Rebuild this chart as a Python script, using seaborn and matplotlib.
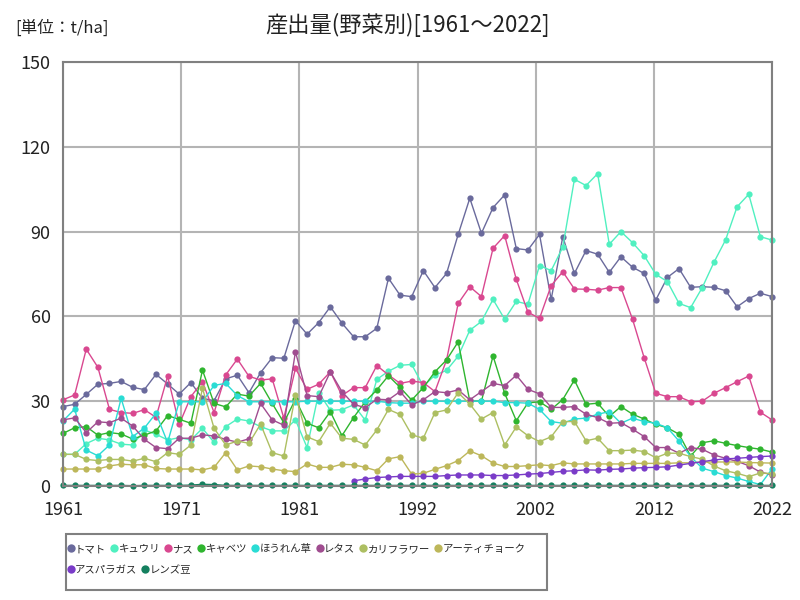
import numpy as np
import pandas as pd
import matplotlib
matplotlib.use('Agg')
import matplotlib.pyplot as plt
from matplotlib.lines import Line2D
from matplotlib.patches import Rectangle
import seaborn as sns

years = list(range(1961, 2023))

tomato = [28.1, 28.9, 32.4, 36.0, 36.3, 37.0, 34.9, 34.1, 39.5, 36.1,
          32.5, 36.6, 31.0, 30.2, 37.9, 39.2, 33.0, 40.1, 45.4, 45.2,
          58.5, 53.7, 57.8, 63.4, 57.6, 52.8, 52.8, 55.8, 73.5, 67.5,
          67.0, 76.2, 70.2, 75.2, 89.0, 101.8, 89.4, 98.5, 103.0, 84.0,
          83.5, 89.0, 66.0, 88.2, 75.2, 83.3, 82.0, 75.6, 81.1, 77.4,
          75.2, 65.8, 73.8, 76.9, 70.3, 70.5, 70.3, 69.1, 63.4, 66.3,
          68.2, 67.0]
cucumber = [11.2, 11.2, 15.0, 16.9, 16.3, 14.8, 14.5, 19.8, 18.3, 16.3,
            17.1, 16.3, 20.4, 15.4, 21.0, 23.7, 23.0, 21.0, 19.5, 19.5,
            23.4, 13.6, 33.0, 26.8, 27.0, 28.7, 23.3, 37.7, 40.6, 42.7,
            43.0, 35.3, 39.2, 40.9, 45.9, 55.1, 58.2, 66.0, 59.0, 65.3,
            64.3, 78.0, 76.2, 84.5, 108.5, 106.3, 110.5, 85.5, 90.0, 86.1,
            81.5, 74.9, 72.3, 64.6, 63.1, 70.2, 79.1, 87.0, 98.8, 103.2,
            88.2, 87.0]
eggplant = [30.5, 32.2, 48.4, 42.0, 27.1, 26.0, 25.7, 27.0, 24.3, 38.8,
            21.8, 31.6, 36.9, 26.0, 39.3, 44.9, 38.8, 37.5, 37.9, 24.0,
            41.6, 34.2, 36.0, 40.4, 32.0, 34.8, 34.8, 42.6, 39.3, 36.3,
            37.1, 36.6, 33.4, 44.6, 64.6, 70.5, 67.0, 84.1, 88.6, 73.1,
            61.5, 59.3, 70.9, 75.8, 69.7, 69.6, 69.3, 70.2, 70.2, 59.0,
            45.4, 32.8, 31.6, 31.6, 29.8, 30.0, 32.8, 34.8, 36.9, 38.9,
            26.1, 23.4]
cabbage = [18.6, 20.6, 21.0, 18.0, 18.9, 18.4, 16.6, 18.0, 19.5, 24.9,
           23.6, 22.2, 41.0, 29.2, 28.0, 32.5, 31.8, 36.3, 29.2, 22.4,
           30.7, 22.2, 20.6, 26.3, 17.8, 24.2, 29.8, 34.0, 39.0, 34.9,
           30.4, 34.8, 40.4, 44.6, 51.0, 30.0, 30.0, 46.0, 32.8, 23.1,
           29.4, 29.8, 27.1, 30.6, 37.5, 28.9, 29.3, 24.6, 28.1, 25.4,
           23.7, 21.8, 20.6, 18.3, 10.6, 15.3, 16.0, 15.1, 14.3, 13.6,
           13.0, 12.0]
spinach = [23.0, 27.2, 12.7, 10.7, 14.5, 31.0, 17.5, 20.5, 25.7, 15.4,
           29.8, 29.8, 29.8, 35.6, 36.3, 32.0, 29.8, 29.8, 29.8, 29.8,
           29.8, 30.0, 30.0, 30.0, 30.0, 30.0, 30.0, 30.0, 29.5, 29.3,
           29.3, 30.0, 30.0, 30.0, 30.0, 30.0, 30.0, 30.0, 29.5, 29.5,
           29.3, 27.1, 22.8, 22.2, 23.7, 24.0, 25.4, 26.3, 22.2, 24.0,
           22.8, 22.2, 20.6, 15.9, 10.4, 6.3, 5.1, 3.7, 2.8, 1.6,
           0.5, 6.0]
lettuce = [23.4, 24.1, 18.9, 22.7, 22.4, 24.0, 21.2, 16.5, 13.6, 13.2,
           16.9, 16.9, 18.1, 17.7, 16.5, 15.5, 16.7, 29.2, 23.4, 21.5,
           47.5, 32.0, 31.6, 40.4, 33.4, 28.9, 27.7, 30.7, 30.5, 33.4,
           28.7, 30.5, 33.4, 33.0, 34.0, 30.5, 33.4, 36.3, 35.5, 39.2,
           34.2, 32.6, 27.8, 27.8, 28.1, 25.4, 24.2, 22.2, 22.4, 20.1,
           17.5, 13.6, 13.6, 11.6, 13.6, 13.0, 11.0, 9.8, 8.7, 7.2,
           4.9, 4.0]
cauliflower = [11.2, 11.2, 9.4, 9.0, 9.4, 9.4, 8.8, 9.8, 8.6, 11.8,
               11.2, 14.5, 34.6, 20.4, 14.5, 15.9, 15.1, 21.9, 11.8, 10.6,
               32.2, 17.4, 15.7, 22.2, 16.9, 16.5, 14.5, 19.8, 27.1, 25.3,
               18.1, 16.9, 26.0, 26.9, 33.0, 29.0, 23.7, 26.0, 14.5, 20.9,
               17.8, 15.7, 17.4, 22.8, 22.8, 16.0, 16.9, 12.5, 12.5, 12.7,
               12.2, 10.0, 11.6, 11.6, 10.4, 9.5, 7.1, 5.4, 4.5, 3.3,
               4.6, 4.4]
artichoke = [6.0, 6.0, 6.0, 6.0, 7.1, 7.7, 7.5, 7.5, 6.2, 6.0,
             6.0, 6.0, 5.7, 6.6, 11.8, 5.7, 7.1, 6.8, 6.0, 5.4,
             5.1, 7.8, 6.6, 6.6, 7.7, 7.5, 6.6, 5.4, 9.6, 10.4,
             4.2, 4.5, 5.9, 7.2, 9.0, 12.4, 10.7, 8.1, 6.9, 6.9,
             7.2, 7.5, 7.2, 8.2, 7.8, 7.8, 7.8, 7.8, 7.8, 8.0,
             8.0, 8.0, 8.0, 8.2, 8.2, 8.5, 8.5, 8.5, 8.5, 8.3,
             8.2, 8.1]
asparagus = [np.nan, np.nan, np.nan, np.nan, np.nan, np.nan, np.nan, np.nan, np.nan, np.nan,
             np.nan, np.nan, np.nan, np.nan, np.nan, np.nan, np.nan, np.nan, np.nan, np.nan,
             np.nan, np.nan, np.nan, np.nan, np.nan, 1.8, 2.5, 3.0, 3.2, 3.4,
             3.4, 3.4, 3.4, 3.7, 3.9, 3.9, 3.9, 3.7, 3.7, 3.9,
             4.2, 4.4, 4.8, 5.2, 5.4, 5.7, 5.6, 5.9, 6.0, 6.3,
             6.5, 6.6, 6.8, 7.4, 8.0, 8.6, 9.2, 9.6, 9.8, 10.1,
             10.4, 10.6]
lentil = [0.2, 0.2, 0.2, 0.2, 0.2, 0.2, 0.1, 0.2, 0.2, 0.2,
          0.2, 0.3, 0.6, 0.5, 0.2, 0.2, 0.2, 0.2, 0.2, 0.2,
          0.2, 0.2, 0.2, 0.2, 0.2, 0.2, 0.2, 0.2, 0.2, 0.2,
          0.2, 0.2, 0.2, 0.2, 0.2, 0.2, 0.2, 0.2, 0.2, 0.2,
          0.2, 0.2, 0.2, 0.2, 0.2, 0.2, 0.2, 0.2, 0.2, 0.2,
          0.2, 0.2, 0.2, 0.2, 0.2, 0.2, 0.2, 0.2, 0.2, 0.2,
          0.2, 0.2]

names = ['トマト', 'キュウリ', 'ナス', 'キャベツ', 'ほうれん草', 'レタス',
         'カリフラワー', 'アーティチョーク', 'アスパラガス', 'レンズ豆']
colors = ['#6a6a9c', '#50f0c0', '#d94890', '#2fb52f', '#2adcd4', '#a04d90',
          '#adbf62', '#bdb75a', '#7a3cc8', '#15805f']
xtick_labels = ['1961', '1971', '1981', '1992', '2002', '2012', '2022']

all_series = [tomato, cucumber, eggplant, cabbage, spinach, lettuce,
              cauliflower, artichoke, asparagus, lentil]
frames = []
for n, s in zip(names, all_series):
    frames.append(pd.DataFrame({'year': years, 'value': s, 'veg': n}))
df = pd.concat(frames).dropna()

sns.set_style('white')
plt.rcParams['font.family'] = ['Noto Sans CJK JP', 'DejaVu Sans']

fig = plt.figure(figsize=(8, 6), dpi=100)
ax = fig.add_axes([63 / 800, 1 - 486 / 600, 709 / 800, 424 / 600])

pal = dict(zip(names, colors))
sns.lineplot(data=df, x='year', y='value', hue='veg', hue_order=names, palette=pal,
             marker='o', markersize=4.5, markeredgewidth=0, linewidth=1,
             errorbar=None, legend=False, ax=ax)

ax.set_xlim(1961, 2022)
ax.set_ylim(0, 150)
ax.set_yticks([0, 30, 60, 90, 120, 150])
ax.set_xticks(np.linspace(1961, 2022, 7))
ax.set_xticklabels(xtick_labels)
ax.set_xlabel('')
ax.set_ylabel('')
ax.grid(True, color='#b4b4b4', linewidth=1.5)
ax.set_axisbelow(True)
for sp in ax.spines.values():
    sp.set_color('#808080')
    sp.set_linewidth(1.5)
ax.tick_params(length=0, labelsize=13, colors='#222222')
ax.tick_params(axis='x', pad=11)
ax.tick_params(axis='y', pad=9)
for line in ax.lines:
    line.set_clip_on(False)

fig.text(0.51, 1 - 25 / 600, '産出量(野菜別)[1961～2022]', ha='center', va='center',
         fontsize=16, color='#222222')
fig.text(15 / 800, 1 - 28 / 600, '[単位：t/ha]', ha='left', va='center',
         fontsize=12, color='#222222')

# legend: two rows in a flow layout, framed by one box
handles = [Line2D([], [], marker='o', linestyle='', color=c, markersize=6,
                  markeredgewidth=0) for c in colors]
leg_kw = dict(loc='upper left', frameon=False, fontsize=7.5,
              handlelength=0.5, handletextpad=0.15, columnspacing=0.55,
              borderpad=0, borderaxespad=0)
fig.legend(handles[:8], names[:8], bbox_to_anchor=(68 / 800, 1 - 544 / 600),
           ncol=8, **leg_kw)
fig.legend(handles[8:], names[8:], bbox_to_anchor=(68 / 800, 1 - 565 / 600),
           ncol=2, **leg_kw)
fig.add_artist(Rectangle((66 / 800, 1 - 590 / 600), 481 / 800, 56 / 600,
                         transform=fig.transFigure, fill=False,
                         edgecolor='#808080', linewidth=1.5))

fig.savefig('out.png', dpi=100)
